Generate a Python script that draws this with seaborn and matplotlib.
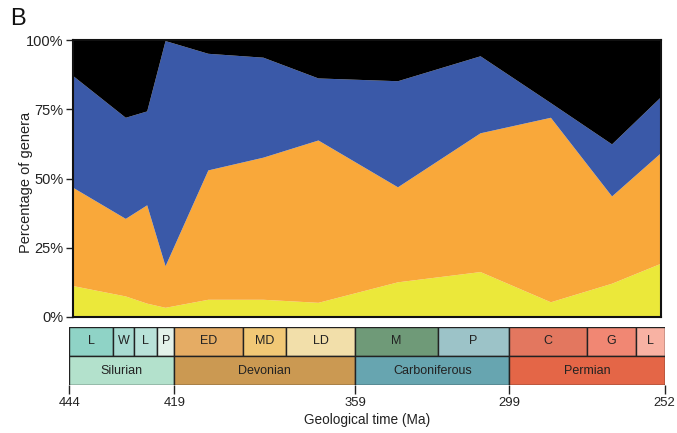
import numpy as np
import matplotlib
matplotlib.use("Agg")
import matplotlib.pyplot as plt
from matplotlib import font_manager
import seaborn as sns

# share of genera per group (percent)
time_ma = [444, 427, 420, 414, 400, 382, 364, 338, 311, 288, 268, 252]
yellow_pct = [11.3, 7.6, 5.0, 3.5, 6.4, 6.4, 5.3, 12.7, 16.4, 5.5, 12.2, 19.4]
orange_pct = [35.4, 28.0, 35.5, 15.0, 46.7, 51.3, 58.6, 34.3, 50.1, 66.6, 31.5, 39.9]
blue_pct = [40.3, 36.5, 33.9, 81.3, 42.1, 36.1, 22.4, 38.3, 27.8, 5.3, 18.8, 20.2]
black_pct = [13.0, 27.9, 25.6, 0.2, 4.8, 6.2, 13.7, 14.7, 5.7, 22.6, 37.5, 20.5]

# geological timescale
epoch_names = ['L', 'W', 'L', 'P', 'ED', 'MD', 'LD', 'M', 'P', 'C', 'G', 'L']
epoch_bounds = [444, 433, 427, 423, 419, 393, 383, 359, 323, 299, 273, 259, 252]
period_names = ['Silurian', 'Devonian', 'Carboniferous', 'Permian']
period_bounds = [444, 419, 359, 299, 252]
time_ticks = [444, 419, 359, 299, 252]
pct_ticks = [0, 25, 50, 75, 100]

# styles / layout
area_colors = ['#EBE83A', '#F9A83A', '#3A59A8', '#000000']
epoch_colors = ['#8FD3C6', '#A9DCD2', '#B9E2D9', '#E4F2EA', '#E5AC64', '#F1C876',
                '#F2DFAA', '#6F9A78', '#9CC3C8', '#E3775F', '#F18773', '#F8B2A3']
period_colors = ['#B3E1CC', '#CB9952', '#67A5B0', '#E46647']
# drawn width of the timescale cells (pixels from the right end, young -> old)
strip_px = [0, 28.7, 77.4, 155.4, 227, 309.4, 379, 421.7, 490.4, 507.4, 530.7, 552, 595.4]

sns.set_theme(style='ticks')
names = {f.name for f in font_manager.fontManager.ttflist}
narrow = 'Liberation Sans Narrow' if 'Liberation Sans Narrow' in names else 'Liberation Sans'
small = 1.0 if narrow == 'Liberation Sans Narrow' else 0.82
plt.rcParams['font.family'] = ['Liberation Sans', 'DejaVu Sans']

fig = plt.figure(figsize=(6.77, 4.33), dpi=100)
W, H = 677, 433

# stacked area
ax = fig.add_axes([73.3 / W, (H - 317) / H, 587.2 / W, 277 / H])
ax.stackplot(time_ma, yellow_pct, orange_pct, blue_pct, black_pct,
             colors=area_colors, linewidth=0)
ax.set_xlim(444, 252)
ax.set_ylim(0, 100)
ax.set_xticks([])
ax.set_yticks(pct_ticks)
ax.set_yticklabels([f'{t}%' for t in pct_ticks], fontsize=10.5, color='#222222')
ax.tick_params(axis='y', length=5, width=1, pad=2, color='#222222')
for s in ax.spines.values():
    s.set_visible(True)
    s.set_linewidth(1.5)
    s.set_color('#111111')
ax.set_ylabel('Percentage of genera', fontsize=10.5, color='#222222')
ax.yaxis.set_label_coords(-0.068, 0.486)

# timescale strip
ages_asc = np.array(epoch_bounds[::-1], dtype=float)
pos_asc = np.array(strip_px, dtype=float)


def fwd(x):
    return np.interp(x, ages_asc, pos_asc)


def inv(x):
    return np.interp(x, pos_asc, ages_asc)


sx = fig.add_axes([69.3 / W, (H - 385) / H, 595.4 / W, 58 / H])
sx.set_xscale('function', functions=(fwd, inv))
sx.set_xlim(444, 252)
sx.set_ylim(0, 2)

old, young = epoch_bounds[:-1], epoch_bounds[1:]
sx.bar(old, 1, width=np.subtract(young, old), bottom=1, align='edge',
       color=epoch_colors, edgecolor='#222222', linewidth=1)
p_old, p_young = period_bounds[:-1], period_bounds[1:]
sx.bar(p_old, 1, width=np.subtract(p_young, p_old), bottom=0, align='edge',
       color=period_colors, edgecolor='#222222', linewidth=1)

for name, a, b in zip(epoch_names, old, young):
    mid = inv((fwd(a) + fwd(b)) / 2)
    sx.text(mid, 1.5, name, ha='center', va='center', fontsize=11 * small,
            family=narrow, color='#222222')
for name, a, b in zip(period_names, p_old, p_young):
    mid = inv((fwd(a) + fwd(b)) / 2)
    sx.text(mid, 0.5, name, ha='center', va='center', fontsize=11 * small,
            family=narrow, color='#222222')

for s in sx.spines.values():
    s.set_visible(False)
sx.set_yticks([])
sx.set_xticks(time_ticks)
sx.set_xticklabels([str(t) for t in time_ticks], fontsize=11.5 * small,
                   family=narrow, color='#222222')
sx.minorticks_off()
sx.tick_params(axis='x', length=6.5, width=1, pad=2.5, color='#222222')
sx.set_xlabel('Geological time (Ma)', fontsize=12 * small, family=narrow,
              color='#222222', labelpad=2.5)

fig.text(10 / W, 1 - 8 / H, 'B', fontsize=17, va='top', ha='left', color='#111111')

fig.savefig('out.png', dpi=100)
